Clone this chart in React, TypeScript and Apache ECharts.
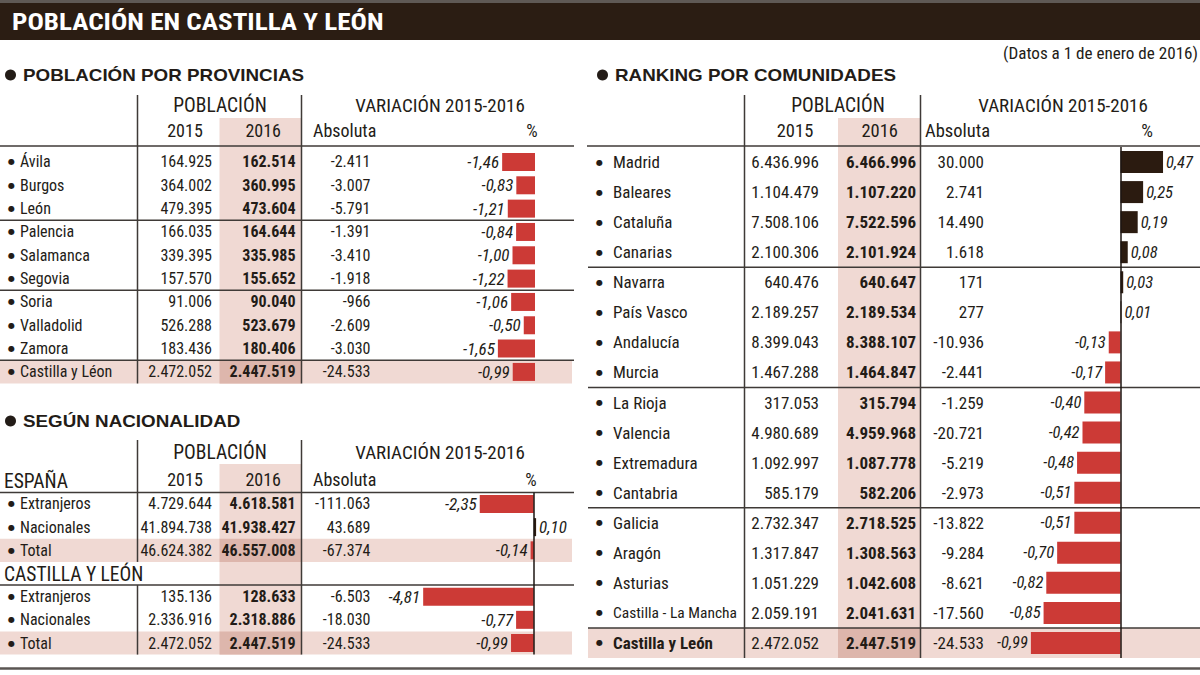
import React, { useEffect, useRef } from "react";
import * as echarts from "echarts";

// ---------------- DATA ----------------
// Población por provincias
const provNames = ["Ávila", "Burgos", "León", "Palencia", "Salamanca", "Segovia", "Soria", "Valladolid", "Zamora", "Castilla y Léon"];
const prov2015 = [164925, 364002, 479395, 166035, 339395, 157570, 91006, 526288, 183436, 2472052];
const prov2016 = [162514, 360995, 473604, 164644, 335985, 155652, 90040, 523679, 180406, 2447519];
const provAbs = [-2411, -3007, -5791, -1391, -3410, -1918, -966, -2609, -3030, -24533];
const provPct = [-1.46, -0.83, -1.21, -0.84, -1.0, -1.22, -1.06, -0.5, -1.65, -0.99];

// Según nacionalidad
const natRows = ["Extranjeros", "Nacionales", "Total"];
const esp2015 = [4729644, 41894738, 46624382];
const esp2016 = [4618581, 41938427, 46557008];
const espAbs = [-111063, 43689, -67374];
const espPct = [-2.35, 0.1, -0.14];
const cyl2015 = [135136, 2336916, 2472052];
const cyl2016 = [128633, 2318886, 2447519];
const cylAbs = [-6503, -18030, -24533];
const cylPct = [-4.81, -0.77, -0.99];

// Ranking por comunidades
const comNames = ["Madrid", "Baleares", "Cataluña", "Canarias", "Navarra", "País Vasco", "Andalucía", "Murcia", "La Rioja", "Valencia", "Extremadura", "Cantabria", "Galicia", "Aragón", "Asturias", "Castilla - La Mancha", "Castilla y León"];
const com2015 = [6436996, 1104479, 7508106, 2100306, 640476, 2189257, 8399043, 1467288, 317053, 4980689, 1092997, 585179, 2732347, 1317847, 1051229, 2059191, 2472052];
const com2016 = [6466996, 1107220, 7522596, 2101924, 640647, 2189534, 8388107, 1464847, 315794, 4959968, 1087778, 582206, 2718525, 1308563, 1042608, 2041631, 2447519];
const comAbs = [30000, 2741, 14490, 1618, 171, 277, -10936, -2441, -1259, -20721, -5219, -2973, -13822, -9284, -8621, -17560, -24533];
const comPct = [0.47, 0.25, 0.19, 0.08, 0.03, 0.01, -0.13, -0.17, -0.4, -0.42, -0.48, -0.51, -0.51, -0.7, -0.82, -0.85, -0.99];

// ---------------- STYLE ----------------
const FONT = "'Roboto Condensed', 'Roboto', sans-serif";
const WIDE = "'Liberation Sans', 'Roboto', sans-serif";
const INK = "#231c17";
const PINK = "#f0d9d3";
const PINK2 = "#ddb6ac";
const RED = "#cc3a36";
const DARK = "#2b1b10";
const LINE = "#3f3a37";
const BAND = "#2b1d13";

type Row = { name: string; v15?: number; v16?: number; abs?: number; pct?: number; bold?: boolean; spacer?: boolean };

type Cfg = {
  top: number; rowH: number; zeroX: number; scale: number; min: number; max: number;
  barW: number; fontSize: number; labelSize: number; bulletW: number;
  xName: number; x15: number; x16: number; xAbs: number; zeroLine: boolean;
};

const fmtInt = (n: number) => (n < 0 ? "-" : "") + String(Math.abs(n)).replace(/\B(?=(\d{3})+(?!\d))/g, ".");
const fmtPct = (n: number) => n.toFixed(2).replace(".", ",");

const provRows: Row[] = provNames.map((name, i) => ({ name, v15: prov2015[i], v16: prov2016[i], abs: provAbs[i], pct: provPct[i] }));
const natTable: Row[] = [
  ...natRows.map((name, i) => ({ name, v15: esp2015[i], v16: esp2016[i], abs: espAbs[i], pct: espPct[i] })),
  { name: "", spacer: true },
  ...natRows.map((name, i) => ({ name, v15: cyl2015[i], v16: cyl2016[i], abs: cylAbs[i], pct: cylPct[i] })),
];
const comRows: Row[] = comNames.map((name, i) => ({
  name, v15: com2015[i], v16: com2016[i], abs: comAbs[i], pct: comPct[i], bold: i === comNames.length - 1,
}));

const T1: Cfg = { top: 150.3, rowH: 23.33, zeroX: 535, scale: 22.5, min: -5, max: 0, barW: 18, fontSize: 16, labelSize: 17, bulletW: 12, xName: 8, x15: 212, x16: 295.5, xAbs: 370.5, zeroLine: false };
const T2: Cfg = { top: 492.4, rowH: 23.17, zeroX: 533.8, scale: 23, min: -5, max: 1, barW: 18, fontSize: 16, labelSize: 17, bulletW: 12, xName: 8, x15: 212, x16: 295.5, xAbs: 370.5, zeroLine: true };
const T3: Cfg = { top: 147, rowH: 30.06, zeroX: 1120.5, scale: 90.5, min: -1.2, max: 0.8, barW: 22, fontSize: 17, labelSize: 16.5, bulletW: 17, xName: 596, x15: 819, x16: 916, xAbs: 984, zeroLine: true };

function buildOption() {
  const grid: any[] = [];
  const xAxis: any[] = [];
  const yAxis: any[] = [];
  const series: any[] = [];

  const addTable = (rows: Row[], cfg: Cfg) => {
    const gi = grid.length;
    const L = cfg.zeroX + cfg.min * cfg.scale;
    grid.push({ left: L, width: (cfg.max - cfg.min) * cfg.scale, top: cfg.top, height: rows.length * cfg.rowH });
    xAxis.push({ gridIndex: gi, type: "value", min: cfg.min, max: cfg.max, show: false });
    const base = {
      gridIndex: gi, type: "category", position: "left", offset: 0, inverse: true, data: rows.map((_, i) => String(i)),
      axisLine: { show: false }, axisTick: { show: false }, splitLine: { show: false }, z: 4,
    };
    const nameIdx = yAxis.length;
    const txt = { fontFamily: FONT, fontSize: cfg.fontSize, color: INK };
    yAxis.push({
      ...base,
      axisLabel: {
        interval: 0, margin: L - cfg.xName, align: "left", ...txt,
        formatter: (_v: string, i: number) => {
          const r = rows[i];
          if (r.spacer) return "";
          const st = r.bold ? "nb" : r.name.length > 16 ? "ns" : "n";
          return `{d|●}{${st}|${r.name}}`;
        },
        rich: {
          d: { fontFamily: "'DejaVu Sans', sans-serif", fontSize: 8, color: INK, width: cfg.bulletW, verticalAlign: "middle" },
          n: { ...txt },
          nb: { ...txt, fontWeight: "bold" },
          ns: { ...txt, fontSize: cfg.fontSize - 1.5 },
        },
      },
    });
    const numAxis = (x: number, key: "v15" | "v16" | "abs", bold: boolean) => ({
      ...base,
      axisLabel: {
        interval: 0, margin: L - x, align: "right", ...txt, fontWeight: bold ? "bold" : "normal",
        formatter: (_v: string, i: number) => (rows[i].spacer ? "" : fmtInt(rows[i][key] as number)),
      },
    });
    yAxis.push(numAxis(cfg.x15, "v15", false));
    yAxis.push(numAxis(cfg.x16, "v16", true));
    yAxis.push(numAxis(cfg.xAbs, "abs", false));

    series.push({
      type: "bar", xAxisIndex: gi, yAxisIndex: nameIdx, barWidth: cfg.barW, silent: true, z: 4,
      data: rows.map((r) =>
        r.spacer || r.pct == null
          ? "-"
          : {
              value: r.pct,
              itemStyle: { color: r.pct < 0 ? RED : DARK },
              label: { position: r.pct < 0 ? "left" : "right" },
            }
      ),
      label: {
        show: true, distance: 3, fontFamily: FONT, fontSize: cfg.labelSize, fontStyle: "italic", color: INK,
        formatter: (p: any) => (typeof p.value === "number" ? fmtPct(p.value) : ""),
      },
      markLine: cfg.zeroLine
        ? {
            silent: true, symbol: ["none", "none"], label: { show: false },
            lineStyle: { color: "#1e1612", width: 1.5, type: "solid" },
            data: [{ xAxis: 0 }],
          }
        : undefined,
    });
  };

  addTable(provRows, T1);
  addTable(natTable, T2);
  addTable(comRows, T3);

  // ---------- decoration (structure, headers) ----------
  const g: any[] = [];
  const rect = (x: number, y: number, w: number, h: number, fill: string, z = 0) =>
    g.push({ type: "rect", z, silent: true, shape: { x, y, width: w, height: h }, style: { fill } });
  const line = (x1: number, y1: number, x2: number, y2: number, w = 1.5, c = LINE) =>
    g.push({ type: "line", z: 3, silent: true, shape: { x1, y1, x2, y2 }, style: { stroke: c, lineWidth: w } });
  const text = (x: number, y: number, s: string, o: any = {}) =>
    g.push({
      type: "text", z: 3, silent: true, x, y, scaleX: o.scaleX ?? 1,
      style: {
        text: s, fill: o.fill ?? INK, fontFamily: o.family ?? FONT, fontSize: o.size ?? 18,
        fontWeight: o.weight ?? "normal", align: o.align ?? "left", verticalAlign: "middle",
      },
    });

  const rowY = (cfg: Cfg, i: number) => cfg.top + i * cfg.rowH;

  // Title band
  rect(0, 0, 1200, 3, "#5f5955");
  rect(0, 3, 1200, 37, BAND);
  text(12, 22, "POBLACIÓN EN CASTILLA Y LEÓN", { fill: "#ffffff", size: 23, weight: "bold", scaleX: 1.18 });
  text(1198, 54, "(Datos a 1 de enero de 2016)", { size: 16, align: "right", scaleX: 1.07 });

  // Section titles
  const section = (x: number, y: number, s: string) => {
    g.push({ type: "circle", z: 3, silent: true, shape: { cx: x + 5.5, cy: y, r: 5.5 }, style: { fill: INK } });
    text(x + 18, y + 0.5, s, { family: WIDE, size: 16.5, weight: "bold", scaleX: 1.14 });
  };
  section(5, 75, "POBLACIÓN POR PROVINCIAS");
  section(5, 421, "SEGÚN NACIONALIDAD");
  section(597, 75, "RANKING POR COMUNIDADES");

  // ---- Table 1 ----
  const b1 = rowY(T1, provRows.length);
  rect(219.5, 118, 81.5, b1 - 118, PINK);
  rect(0, rowY(T1, 9), 572, T1.rowH, PINK);
  rect(219.5, rowY(T1, 9), 81.5, T1.rowH, PINK2, 1);
  line(0, 146, 574, 146);
  [3, 6, 9].forEach((i) => line(0, rowY(T1, i), 574, rowY(T1, i)));
  line(137.5, 95, 137.5, b1);
  line(301.5, 95, 301.5, b1);
  text(220, 105, "POBLACIÓN", { size: 19.5, align: "center" });
  text(440, 105, "VARIACIÓN 2015-2016", { size: 19, align: "center" });
  text(185, 130, "2015", { align: "center" });
  text(281, 130, "2016", { align: "right" });
  text(313, 130, "Absoluta");
  text(532, 130, "%", { align: "center" });

  // ---- Table 2 ----
  const b2 = rowY(T2, natTable.length);
  rect(219.5, 464, 81.5, b2 - 464, PINK);
  [2, 6].forEach((i) => {
    rect(0, rowY(T2, i), 572, T2.rowH, PINK);
    rect(219.5, rowY(T2, i), 81.5, T2.rowH, PINK2, 1);
  });
  line(0, rowY(T2, 0), 574, rowY(T2, 0));
  line(0, rowY(T2, 4), 574, rowY(T2, 4));
  line(137.5, 440, 137.5, rowY(T2, 3));
  line(137.5, rowY(T2, 4), 137.5, b2);
  line(301.5, 440, 301.5, b2);
  text(220, 452, "POBLACIÓN", { size: 19.5, align: "center" });
  text(440, 452, "VARIACIÓN 2015-2016", { size: 19, align: "center" });
  text(4, 481, "ESPAÑA", { size: 19.5 });
  text(185, 479, "2015", { align: "center" });
  text(281, 479, "2016", { align: "right" });
  text(313, 479, "Absoluta");
  text(531, 479, "%", { align: "center" });
  text(4, 574, "CASTILLA Y LEÓN", { size: 19.5 });

  // ---- Table 3 ----
  const b3 = rowY(T3, comRows.length);
  rect(838, 118, 82.5, b3 - 118, PINK);
  rect(588, rowY(T3, 16), 612, T3.rowH, PINK);
  rect(838, rowY(T3, 16), 82.5, T3.rowH, PINK2, 1);
  line(587, 146, 1200, 146);
  [4, 8, 12, 16].forEach((i) => line(588, rowY(T3, i), 1200, rowY(T3, i)));
  line(744.5, 95, 744.5, b3);
  line(920.5, 95, 920.5, b3);
  text(838, 105, "POBLACIÓN", { size: 19.5, align: "center" });
  text(1063, 105, "VARIACIÓN 2015-2016", { size: 19, align: "center" });
  text(795, 131, "2015", { align: "center", size: 18.5 });
  text(898, 131, "2016", { align: "right", size: 18.5 });
  text(925, 131, "Absoluta", { size: 18.5 });
  text(1147, 131, "%", { align: "center", size: 18.5 });

  // Bottom rule
  line(0, 668.5, 1200, 668.5, 2.5, "#5a5552");

  return { animation: false, backgroundColor: "#ffffff", grid, xAxis, yAxis, series, graphic: { elements: g } };
}

export default function App() {
  const ref = useRef<HTMLDivElement>(null);
  useEffect(() => {
    document.body.style.margin = "0";
    const chart = echarts.init(ref.current!, null, { renderer: "svg" });
    chart.setOption(buildOption());
    return () => chart.dispose();
  }, []);
  return <div ref={ref} style={{ width: 1200, height: 675 }} />;
}
